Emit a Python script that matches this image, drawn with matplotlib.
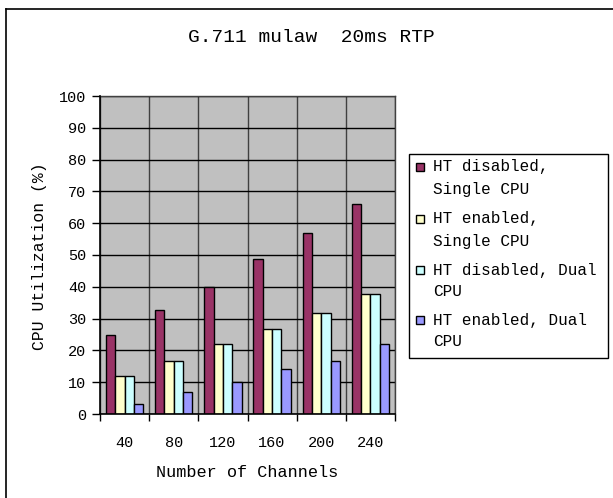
import matplotlib
matplotlib.use("Agg")
import matplotlib.pyplot as plt
import numpy as np
from matplotlib.patches import Rectangle
from matplotlib.lines import Line2D

# ---- data ----
channels = ["40", "80", "120", "160", "200", "240"]
series_names = ["HT disabled,\nSingle CPU", "HT enabled,\nSingle CPU",
                "HT disabled, Dual\nCPU", "HT enabled, Dual\nCPU"]
ht_dis_single = [25.0, 32.7, 40.0, 48.6, 56.8, 66.0]
ht_en_single = [11.9, 16.8, 21.9, 26.8, 31.9, 37.7]
ht_dis_dual = [11.9, 16.8, 21.9, 26.8, 31.9, 37.7]
ht_en_dual = [3.2, 6.8, 10.0, 14.2, 16.8, 21.9]
colors = ["#993366", "#FFFFCC", "#CCFFFF", "#9999FF"]

W, H = 613, 498
DPI = 100
plt.rcParams['font.family'] = ['Liberation Mono', 'DejaVu Sans Mono']
fig = plt.figure(figsize=(W / DPI, H / DPI), dpi=DPI)
fig.patch.set_facecolor("white")

def fx(px):
    return px / W

def fy(py):
    return 1 - py / H

L, R, T, B = 100, 395, 96, 414
ax = fig.add_axes([fx(L), fy(B), fx(R) - fx(L), fy(T) - fy(B)])
ax.set_facecolor("#C0C0C0")

x = np.arange(len(channels))
bw = 0.19
all_series = [ht_dis_single, ht_en_single, ht_dis_dual, ht_en_dual]
for i, (vals, c) in enumerate(zip(all_series, colors)):
    ax.bar(x + (i - 1.5) * bw, vals, width=bw, color=c, edgecolor="black",
           linewidth=1.0, zorder=3)

ax.set_xlim(-0.5, len(channels) - 0.5)
ax.set_ylim(0, 100)
ax.set_yticks(np.arange(0, 101, 10))
ax.set_xticks(x)
ax.set_xticklabels(channels)
ax.set_xticks(np.arange(-0.5, len(channels), 1.0), minor=True)
ax.tick_params(axis="x", which="major", length=0, pad=16, labelsize=11)
ax.tick_params(axis="x", which="minor", length=5, width=1, color="black", direction="out")
ax.tick_params(axis="y", length=6, width=1, direction="out", pad=4, labelsize=11)

ax.grid(axis="y", color="black", linewidth=1.0, zorder=1)
ax.grid(axis="x", which="minor", color="#404040", linewidth=1.0, zorder=1)
for s in ["left", "bottom"]:
    ax.spines[s].set_color("black")
    ax.spines[s].set_linewidth(1.2)
    ax.spines[s].set_zorder(4)
for s in ["top", "right"]:
    ax.spines[s].set_color("#404040")
    ax.spines[s].set_linewidth(1.0)

ax.set_xlabel("Number of Channels", fontsize=12.2)
ax.xaxis.set_label_coords((247 - L) / (R - L), -(472 - B) / (B - T))
ax.xaxis.label.set_va("center")
ax.set_ylabel("CPU Utilization (%)", fontsize=11.8)
ax.yaxis.set_label_coords((40 - L) / (R - L), (B - 256) / (B - T))
ax.yaxis.label.set_va("center")

fig.text(fx(311), fy(37), "G.711 mulaw  20ms RTP", ha="center", va="center", fontsize=14)

# figure border
fig.add_artist(Line2D([fx(6), fx(6)], [fy(9), 0], transform=fig.transFigure, color="black", lw=1.2))
fig.add_artist(Line2D([fx(6), 1], [fy(9), fy(9)], transform=fig.transFigure, color="black", lw=1.2))

# legend (manual)
fig.add_artist(Rectangle((fx(409), fy(358)), fx(608) - fx(409), fy(154) - fy(358),
                         transform=fig.transFigure, facecolor="white", edgecolor="black", lw=1.0))
first_line_y = [167, 219, 270, 320]
for name, c, y0 in zip(series_names, colors, first_line_y):
    fig.add_artist(Rectangle((fx(416), fy(y0 + 4)), fx(8), 8 / H, transform=fig.transFigure,
                             facecolor=c, edgecolor="black", lw=1.0))
    lines = name.split("\n")
    for k, ln in enumerate(lines):
        fig.text(fx(433), fy(y0 + 22 * k), ln, ha="left", va="center", fontsize=11.5)

fig.savefig("out.png", dpi=DPI, facecolor="white")
